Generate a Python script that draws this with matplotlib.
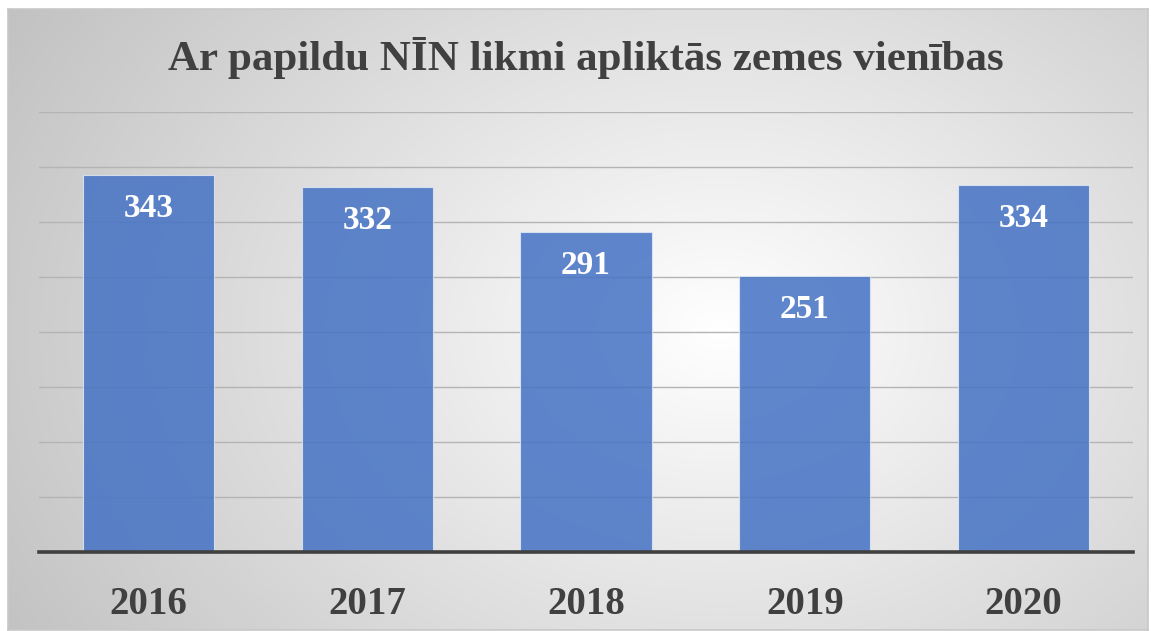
import numpy as np
import matplotlib
matplotlib.use("Agg")
import matplotlib.pyplot as plt

years = ["2016", "2017", "2018", "2019", "2020"]
values = [343, 332, 291, 251, 334]
title = "Ar papildu NĪN likmi apliktās zemes vienības"

W, H = 1151, 631
fig = plt.figure(figsize=(W / 100, H / 100), dpi=100)
fig.patch.set_facecolor("white")

def fx(px):
    return px / W

def fy(py):
    return 1 - py / H

# background frame with radial gradient
fl, ft, fr, fb = 8, 9, 1148, 630
bg = fig.add_axes([fx(fl), fy(fb), fx(fr - fl), (fb - ft) / H])
nx, ny = 400, 220
xs = np.linspace(fl, fr, nx)
ys = np.linspace(ft, fb, ny)
X, Y = np.meshgrid(xs, ys)
cx, cy = 720, 330
d = np.sqrt(((X - cx) / 700) ** 2 + ((Y - cy) / 520) ** 2)
d = np.clip(d / d.max(), 0, 1)
c0 = np.array([1.0, 1.0, 1.0])
c1 = np.array([0.76, 0.76, 0.76])
img = c0[None, None, :] * (1 - d[..., None]) + c1[None, None, :] * d[..., None]
bg.imshow(img, extent=[0, 1, 0, 1], aspect="auto", origin="upper")
bg.set_xticks([]); bg.set_yticks([])
for s in bg.spines.values():
    s.set_color("#c8c8c8")
    s.set_linewidth(1.2)

# main axes
al, ar, at, ab = 39, 1133, 112, 552
ax = fig.add_axes([fx(al), fy(ab), fx(ar - al), (ab - at) / H])
ax.patch.set_alpha(0)
x = np.arange(len(years))
ax.set_xlim(-0.5, len(years) - 0.5)
ax.set_ylim(0, 400)
ax.set_yticks(np.arange(50, 401, 50))
ax.yaxis.grid(True, color="#b4b4b4", linewidth=1.0)
ax.set_axisbelow(True)
bars = ax.bar(x, values, width=0.6, color="#4472C4", alpha=0.85,
              edgecolor="#dfe7f5", linewidth=0.8, zorder=2)
for xi, v in zip(x, values):
    ax.annotate(str(v), (xi, v), xytext=(0, -24.5), textcoords="offset points",
                ha="center", va="center", color="white", fontsize=24,
                fontweight="bold", family="Liberation Serif", zorder=3)
for s in ["top", "right", "left"]:
    ax.spines[s].set_visible(False)
ax.spines["bottom"].set_color("#404040")
ax.spines["bottom"].set_linewidth(2.6)
ax.spines["bottom"].set_zorder(4)
ax.tick_params(axis="y", left=False, labelleft=False)
ax.tick_params(axis="x", bottom=False, pad=21)
ax.set_xticks(x)
ax.set_xticklabels(years, fontsize=28, fontweight="bold",
                   family="Liberation Serif", color="#404040")

fig.text(fx(586), fy(58), title, ha="center", va="center", fontsize=31,
         fontweight="bold", family="Liberation Serif", color="#404040")

fig.savefig("out.png", dpi=100)
